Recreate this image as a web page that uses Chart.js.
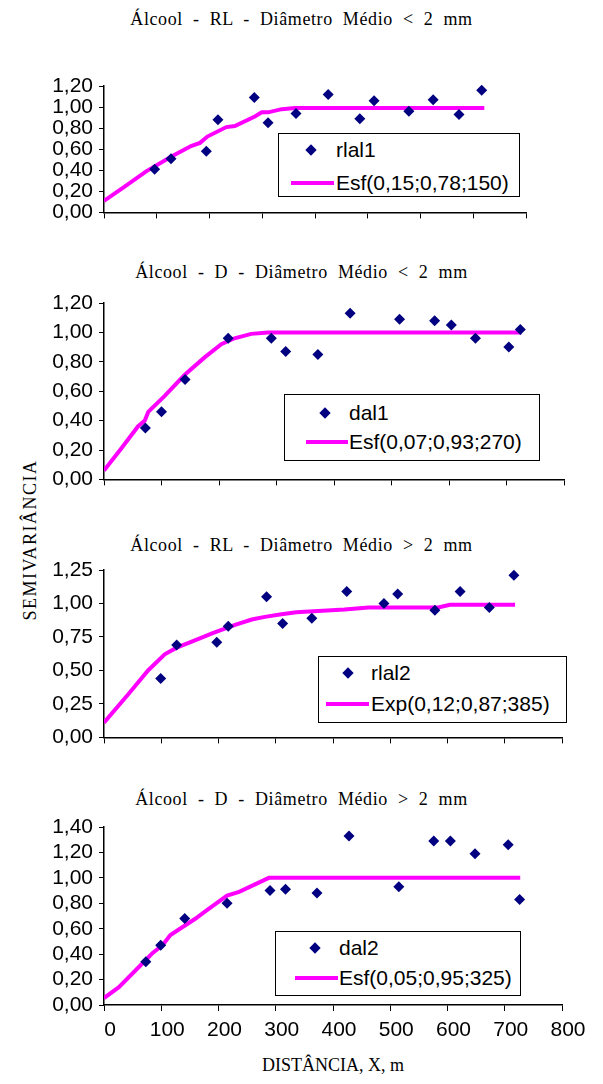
<!DOCTYPE html>
<html>
<head>
<meta charset="utf-8">
<script src="https://cdn.jsdelivr.net/npm/chart.js@4.4.0/dist/chart.umd.min.js"></script>
<style>
  body { margin: 0; background: #fff; width: 603px; height: 1084px; position: relative; overflow: hidden; }
  canvas { position: absolute; left: 0; }
  .title { position: absolute; left: 0; width: 603px; text-align: center; font-family: "Liberation Serif", "Times New Roman", serif;
           font-size: 18px; letter-spacing: 0.6px; word-spacing: 5px; color: #000; white-space: nowrap; }
  .xtitle { position: absolute; left: 333px; top: 1055px; transform: translateX(-50%); font-family: "Liberation Serif", serif;
            font-size: 18px; white-space: nowrap; }
  .ytitle { position: absolute; left: 30px; top: 540px; transform: translate(-50%, -50%) rotate(-90deg);
            font-family: "Liberation Serif", serif; font-size: 18px; letter-spacing: 1.5px; white-space: nowrap; }
  .legend { position: absolute; border: 1.5px solid #000; background: #fff; box-sizing: border-box;
            font-family: "Liberation Sans", Arial, sans-serif; font-size: 21px; color: #000; }
  .legend span { position: absolute; line-height: 24px; white-space: nowrap; }
  .legend .dia { position: absolute; width: 8px; height: 8px; background: #000080; transform: translate(-50%, -50%) rotate(45deg); }
  .legend .ln { position: absolute; height: 4px; background: #ff00ff; transform: translateY(-50%); }
</style>
</head>
<body>
<div class="title" style="top:9px">Álcool - RL - Diâmetro Médio &lt; 2 mm</div>
<div class="title" style="top:262px">Álcool - D - Diâmetro Médio &lt; 2 mm</div>
<div class="title" style="top:535px">Álcool - RL - Diâmetro Médio &gt; 2 mm</div>
<div class="title" style="top:789px">Álcool - D - Diâmetro Médio &gt; 2 mm</div>
<div class="ytitle">SEMIVARIÂNCIA</div>
<div class="xtitle">DISTÂNCIA, X, m</div>

<canvas id="c1"></canvas>
<canvas id="c2"></canvas>
<canvas id="c3"></canvas>
<canvas id="c4"></canvas>

<script>
// tick labels
const xTicks = ['0', '100', '200', '300', '400', '500', '600', '700', '800'];
const yTicks12 = ['0,00', '0,20', '0,40', '0,60', '0,80', '1,00', '1,20'];
const yTicks3 = ['0,00', '0,25', '0,50', '0,75', '1,00', '1,25'];
const yTicks4 = ['0,00', '0,20', '0,40', '0,60', '0,80', '1,00', '1,20', '1,40'];

// Álcool - RL - < 2 mm
const rlal1X = [96, 127, 194, 216, 285, 311, 364, 425, 485, 512, 578, 624, 673, 716];
const rlal1Y = [0.41, 0.51, 0.58, 0.88, 1.09, 0.85, 0.94, 1.12, 0.89, 1.06, 0.96, 1.07, 0.93, 1.16];
const esf1X = [0, 35, 80, 128, 165, 182, 196, 232, 248, 286, 299, 311, 337, 362, 721];
const esf1Y = [0.11, 0.23, 0.39, 0.53, 0.63, 0.66, 0.72, 0.81, 0.82, 0.91, 0.95, 0.95, 0.98, 0.99, 0.99];

// Álcool - D - < 2 mm
const dal1X = [72, 100, 141, 216, 291, 316, 372, 428, 514, 575, 604, 646, 704, 724];
const dal1Y = [0.35, 0.46, 0.68, 0.96, 0.96, 0.87, 0.85, 1.13, 1.09, 1.08, 1.05, 0.96, 0.90, 1.02];
const esf2X = [0, 30, 59, 71, 77, 106, 140, 175, 204, 227, 256, 285, 726];
const esf2Y = [0.06, 0.21, 0.36, 0.40, 0.46, 0.57, 0.71, 0.83, 0.92, 0.96, 0.99, 1.0, 1.0];

// Álcool - RL - > 2 mm
const rlal2X = [99, 127, 197, 217, 284, 312, 363, 424, 489, 513, 578, 622, 673, 716];
const rlal2Y = [0.44, 0.69, 0.71, 0.83, 1.05, 0.85, 0.89, 1.09, 1.00, 1.07, 0.95, 1.09, 0.97, 1.21];
const exp3X = [0, 42, 77, 106, 127, 162, 191, 229, 258, 281, 310, 336, 420, 462, 584, 604, 718];
const exp3Y = [0.11, 0.32, 0.50, 0.62, 0.67, 0.73, 0.78, 0.84, 0.88, 0.90, 0.92, 0.935, 0.955, 0.97, 0.97, 0.99, 0.99];

// Álcool - D - > 2 mm
const dal2X = [73, 99, 141, 215, 290, 317, 372, 428, 515, 576, 605, 648, 706, 726];
const dal2Y = [0.34, 0.47, 0.68, 0.80, 0.90, 0.91, 0.88, 1.33, 0.93, 1.29, 1.29, 1.19, 1.26, 0.83];
const esf4X = [0, 26, 70, 85, 102, 116, 160, 178, 215, 236, 288, 727];
const esf4Y = [0.055, 0.14, 0.34, 0.41, 0.47, 0.55, 0.68, 0.74, 0.86, 0.89, 1.0, 1.0];

function pts(xs, ys) {
  return xs.map(function(x, i) { return { x: x, y: ys[i] }; });
}

const panels = [
  { id: 'c1', top: 85.7, bottom: 212.7, right: 526, yMax: 1.2, yStep: 0.2, yTicks: yTicks12, xLabels: false,
    sName: 'rlal1', sX: rlal1X, sY: rlal1Y, lName: 'Esf(0,15;0,78;150)', lX: esf1X, lY: esf1Y,
    leg: { left: 278, top: 133, w: 242, h: 64, dx: 32, t1: 57, y1: 16, l0: 12, l1: 55, y2: 49 } },
  { id: 'c2', top: 303.3, bottom: 480, right: 564, yMax: 1.2, yStep: 0.2, yTicks: yTicks12, xLabels: false,
    sName: 'dal1', sX: dal1X, sY: dal1Y, lName: 'Esf(0,07;0,93;270)', lX: esf2X, lY: esf2Y,
    leg: { left: 284, top: 394, w: 256, h: 67, dx: 40, t1: 64, y1: 18, l0: 21, l1: 63, y2: 47 } },
  { id: 'c3', top: 570, bottom: 738.3, right: 562, yMax: 1.25, yStep: 0.25, yTicks: yTicks3, xLabels: false,
    sName: 'rlal2', sX: rlal2X, sY: rlal2Y, lName: 'Exp(0,12;0,87;385)', lX: exp3X, lY: exp3Y,
    leg: { left: 318, top: 656, w: 249, h: 67, dx: 29, t1: 52, y1: 16, l0: 7, l1: 50, y2: 47 } },
  { id: 'c4', top: 826.7, bottom: 1004.3, right: 562, yMax: 1.4, yStep: 0.2, yTicks: yTicks4, xLabels: true,
    sName: 'dal2', sX: dal2X, sY: dal2Y, lName: 'Esf(0,05;0,95;325)', lX: esf4X, lY: esf4Y,
    leg: { left: 275, top: 931, w: 246, h: 65, dx: 39, t1: 63, y1: 16, l0: 19, l1: 62, y2: 46 } }
];

const tickFont = { family: '"Liberation Sans", Arial, sans-serif', size: 21 };

panels.forEach(function(p) {
  const padTop = 20;
  const xh = p.xLabels ? 45 : 18;
  const canvas = document.getElementById(p.id);
  canvas.width = 603;
  canvas.height = Math.round(p.bottom - p.top + padTop + xh);
  canvas.style.top = (p.top - padTop) + 'px';

  new Chart(canvas, {
    type: 'scatter',
    data: {
      datasets: [{
        label: p.sName,
        data: pts(p.sX, p.sY),
        pointStyle: 'rectRot',
        pointRadius: 5.5,
        backgroundColor: '#000080',
        borderColor: '#000080',
        borderWidth: 0,
        clip: false
      }, {
        label: p.lName,
        data: pts(p.lX, p.lY),
        showLine: true,
        pointRadius: 0,
        borderColor: '#ff00ff',
        borderWidth: 4,
        tension: 0
      }]
    },
    options: {
      responsive: false,
      animation: false,
      events: [],
      layout: { padding: { top: padTop, right: 603 - p.right, left: 0, bottom: 0 } },
      plugins: { legend: { display: false }, tooltip: { enabled: false } },
      scales: {
        x: {
          type: 'linear', min: 0, max: 800,
          afterFit: function(s) { s.height = xh; },
          border: { color: '#000', width: 1.5 },
          grid: { drawOnChartArea: false, drawTicks: true, tickLength: 6, color: '#000', lineWidth: 1 },
          ticks: {
            stepSize: 100, display: p.xLabels, color: '#000', font: tickFont, padding: 7, maxRotation: 0,
            autoSkip: false, labelOffset: 6,
            callback: function(v, i) { return xTicks[i]; }
          }
        },
        y: {
          type: 'linear', min: 0, max: p.yMax,
          afterFit: function(s) { s.width = 104; },
          border: { color: '#000', width: 1.5 },
          grid: { drawOnChartArea: false, drawTicks: true, tickLength: 5, color: '#000', lineWidth: 1 },
          ticks: {
            stepSize: p.yStep, color: '#000', font: tickFont, padding: 6, autoSkip: false,
            callback: function(v, i) { return p.yTicks[i]; }
          }
        }
      }
    }
  });

  // legend box
  const L = p.leg;
  const box = document.createElement('div');
  box.className = 'legend';
  box.style.left = L.left + 'px';
  box.style.top = L.top + 'px';
  box.style.width = L.w + 'px';
  box.style.height = L.h + 'px';
  box.innerHTML =
    '<div class="dia" style="left:' + L.dx + 'px;top:' + L.y1 + 'px"></div>' +
    '<span style="left:' + L.t1 + 'px;top:' + (L.y1 - 12) + 'px">' + p.sName + '</span>' +
    '<div class="ln" style="left:' + L.l0 + 'px;width:' + (L.l1 - L.l0) + 'px;top:' + L.y2 + 'px"></div>' +
    '<span style="left:' + L.t1 + 'px;top:' + (L.y2 - 12) + 'px">' + p.lName + '</span>';
  document.body.appendChild(box);
});
</script>
</body>
</html>
